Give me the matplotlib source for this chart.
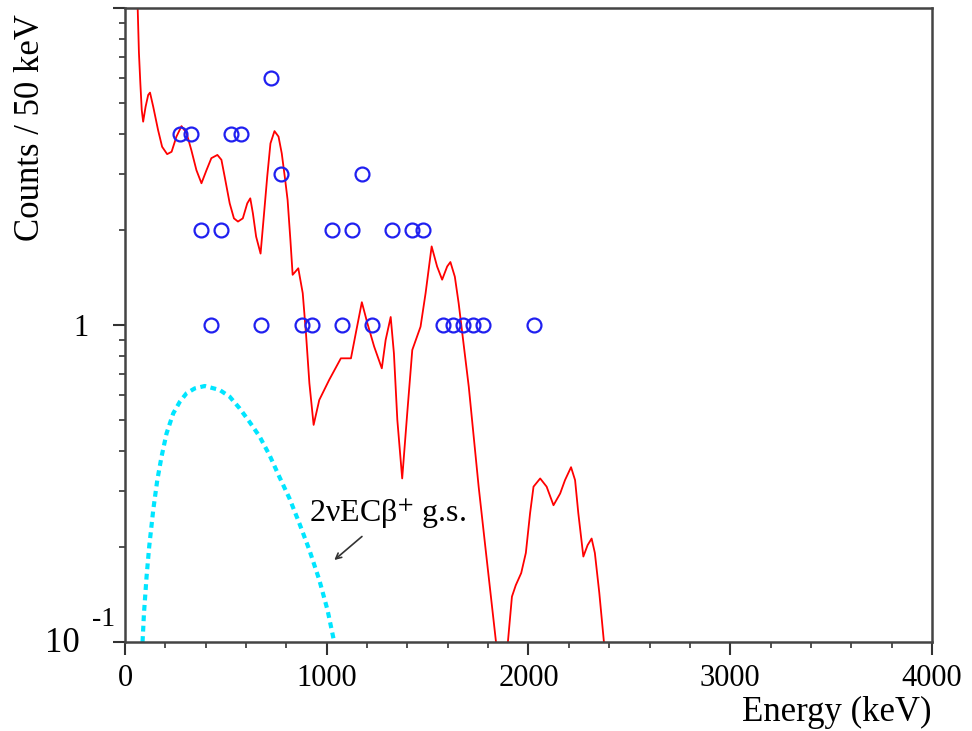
import matplotlib
matplotlib.use('Agg')
import matplotlib.pyplot as plt
from matplotlib.ticker import FixedLocator, MultipleLocator, LogLocator, NullFormatter

plt.rcParams['font.family'] = ['Liberation Serif', 'DejaVu Serif']
plt.rcParams['mathtext.fontset'] = 'stix'

# measured events, 50 keV bins
data_energy = [275, 325, 375, 425, 475, 525, 575, 675, 725, 775, 875, 925, 1025,
               1075, 1125, 1175, 1225, 1325, 1425, 1475, 1575, 1625, 1675, 1725,
               1775, 2025]
data_counts = [4, 4, 2, 1, 2, 4, 4, 1, 6, 3, 1, 1, 2,
               1, 2, 3, 1, 2, 2, 2, 1, 1, 1, 1,
               1, 1]

# background fit (red)
fit_energy = [56, 63, 69, 76, 83, 90, 102, 115, 124, 140, 164, 184, 209, 231, 255,
              280, 305, 329, 354, 379, 404, 428, 458, 478, 494, 519, 540, 560,
              584, 606, 621, 634, 650, 672, 688, 705, 721, 741, 761, 777, 794,
              806, 820, 831, 859, 881, 897, 914, 935, 963, 1012, 1070, 1120,
              1144, 1174, 1202, 1235, 1273, 1292, 1317, 1333, 1350, 1374, 1399,
              1424, 1465, 1490, 1520, 1547, 1572, 1597, 1613, 1635, 1654, 1704,
              1753, 1786, 1839, 1860, 1880, 1898, 1918, 1937, 1964, 1987, 2008,
              2025, 2058, 2090, 2124, 2157, 2181, 2211, 2231, 2247, 2272, 2293,
              2313, 2329, 2351, 2374, 2390]
fit_counts = [14, 9.93, 7.24, 5.80, 4.77, 4.38, 4.88, 5.32, 5.41, 4.88, 4.12, 3.65,
              3.46, 3.52, 3.93, 4.24, 4.03, 3.56, 3.08, 2.80, 3.08, 3.36, 3.44,
              3.32, 2.94, 2.42, 2.17, 2.12, 2.17, 2.42, 2.51, 2.25, 1.90, 1.68,
              2.20, 2.94, 3.74, 4.09, 3.93, 3.48, 2.87, 2.48, 1.85, 1.44, 1.51,
              1.26, 0.942, 0.655, 0.484, 0.580, 0.671, 0.785, 0.785, 0.942, 1.18,
              1.01, 0.855, 0.730, 0.897, 1.06, 0.814, 0.501, 0.328, 0.527, 0.834,
              0.988, 1.26, 1.77, 1.53, 1.39, 1.53, 1.58, 1.42, 1.17, 0.639, 0.309,
              0.200, 0.100, 0.05, 0.05, 0.100, 0.139, 0.151, 0.165, 0.191, 0.255,
              0.309, 0.328, 0.309, 0.270, 0.294, 0.324, 0.356, 0.324, 0.255, 0.186,
              0.202, 0.212, 0.191, 0.143, 0.100, 0.05]

# 2nu EC beta+ g.s. expected spectrum (cyan)
ecb_energy = [87, 94, 107, 120, 140, 160, 181, 206, 239, 272, 305, 346, 395, 469,
              519, 568, 617, 667, 716, 765, 815, 864, 914, 963, 1004, 1037]
ecb_counts = [0.1, 0.123, 0.161, 0.200, 0.261, 0.324, 0.384, 0.455, 0.526, 0.573,
              0.609, 0.631, 0.642, 0.624, 0.594, 0.546, 0.495, 0.445, 0.389, 0.332,
              0.284, 0.237, 0.195, 0.157, 0.126, 0.1]

fig = plt.figure(figsize=(9.72, 7.31), dpi=100)
ax = fig.add_axes([0.1286, 0.1218, 0.8302, 0.8672])

ax.plot(fit_energy, fit_counts, color='red', lw=1.3)
ax.plot(ecb_energy, ecb_counts, color='#00e5ff', lw=3, linestyle=(0, (1.4, 1.1)))
ax.plot(data_energy, data_counts, 'o', mfc='none', mec='#2020f0', ms=10, mew=1.6)

ax.set_yscale('log')
ax.set_xlim(0, 4000)
ax.set_ylim(0.1, 10)

ax.xaxis.set_major_locator(MultipleLocator(1000))
ax.xaxis.set_minor_locator(MultipleLocator(200))
ax.yaxis.set_major_locator(FixedLocator([0.1, 1, 10]))
ax.set_yticklabels(['', '1', ''])
ax.yaxis.set_minor_locator(LogLocator(base=10, subs=range(2, 10)))
ax.yaxis.set_minor_formatter(NullFormatter())

ax.tick_params(which='major', length=9, width=1.5, labelsize=22, color='#333333')
ax.tick_params(which='minor', length=4.5, width=1.2, color='#333333')
ax.tick_params(axis='x', which='major', pad=7)
ax.tick_params(axis='y', which='major', pad=17)
for s in ax.spines.values():
    s.set_linewidth(1.8)
    s.set_color('#444444')

# bottom y label drawn as "10" with a raised "-1"
ytr = ax.get_yaxis_transform()
ax.text(-0.0555, 0.099, '10', transform=ytr, fontsize=25, ha='right', va='center')
ax.text(-0.041, 0.118, '-1', transform=ytr, fontsize=20, ha='left', va='center')

ax.set_xlabel('Energy (keV)', fontsize=25, loc='right')
ax.xaxis.set_label_coords(1.0, -0.085)
ax.set_ylabel('Counts / 50 keV', fontsize=25, loc='top')
ax.yaxis.set_label_coords(-0.097, 0.99)

ax.text(914, 0.239, r'2νECβ$^{+}$ g.s.', fontsize=23)
ax.annotate('', xy=(1027, 0.179), xytext=(1185, 0.218),
            arrowprops=dict(arrowstyle='->', color='#333333', lw=1.2))

fig.savefig('out.png', dpi=100)
